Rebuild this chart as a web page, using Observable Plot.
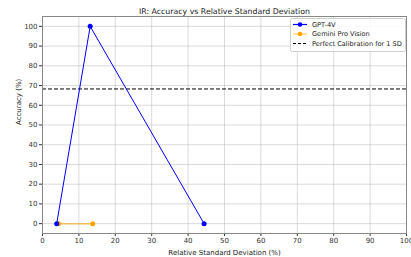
<!DOCTYPE html>
<html><head><meta charset="utf-8">
<script src="https://cdn.jsdelivr.net/npm/d3@7"></script>
<script src="https://cdn.jsdelivr.net/npm/@observablehq/plot@0.6"></script>
<style>
html,body{margin:0;padding:0;background:#fff;}
#wrap{position:relative;width:411px;height:257px;font-family:"DejaVu Sans",sans-serif;}
#legend{position:absolute;left:290px;top:18px;}
</style></head>
<body><div id="wrap"><div id="chart"></div><svg id="legend" width="116" height="34"></svg></div>
<script>
const title = "IR: Accuracy vs Relative Standard Deviation";
const xLabel = "Relative Standard Deviation (%)";
const yLabel = "Accuracy (%)";
const gptX = [3.9, 13.1, 44.4];
const gptY = [0, 100, 0];
const gemX = [4.4, 13.8];
const gemY = [0, 0];
const calibration = 68.27;
const xTicks = [0,10,20,30,40,50,60,70,80,90,100];
const yTicks = [0,10,20,30,40,50,60,70,80,90,100];
const seriesNames = ["GPT-4V", "Gemini Pro Vision", "Perfect Calibration for 1 SD"];

const gpt = gptX.map((x,i)=>({x, y: gptY[i]}));
const gem = gemX.map((x,i)=>({x, y: gemY[i]}));

const plot = Plot.plot({
  width: 411, height: 257,
  marginLeft: 42, marginRight: 5, marginTop: 16, marginBottom: 24,
  style: {fontFamily: "DejaVu Sans, sans-serif", fontSize: "7px", color: "#333"},
  x: {domain: [0, 100]},
  y: {domain: [-5, 105]},
  marks: [
    Plot.ruleX(xTicks, {stroke: "#b0b0b0", strokeOpacity: 0.6, strokeWidth: 0.8}),
    Plot.ruleY(yTicks, {stroke: "#b0b0b0", strokeOpacity: 0.6, strokeWidth: 0.8}),
    Plot.ruleY([calibration], {stroke: "#000", strokeDasharray: "4,2", strokeWidth: 1}),
    Plot.line(gem, {x: "x", y: "y", stroke: "#ffa500", strokeOpacity: 0.6, strokeWidth: 1.5}),
    Plot.dot(gem, {x: "x", y: "y", fill: "#ffa500", r: 2.5}),
    Plot.line(gpt, {x: "x", y: "y", stroke: "#0000ff", strokeWidth: 1}),
    Plot.dot(gpt, {x: "x", y: "y", fill: "#0000ff", r: 2.5}),
    Plot.axisX({ticks: xTicks, tickSize: 3, tickPadding: 2, label: null, fontSize: 7}),
    Plot.axisY({ticks: yTicks, tickSize: 3, tickPadding: 2, label: null, fontSize: 7}),
    Plot.frame({stroke: "#888", strokeWidth: 1}),
    Plot.text([title], {frameAnchor: "top", dy: -8, fontSize: 7.8, fill: "#222"}),
    Plot.text([xLabel], {frameAnchor: "bottom", lineAnchor: "bottom", dy: 21, fontSize: 7, fill: "#222"}),
    Plot.text([yLabel], {frameAnchor: "left", dx: -24, rotate: -90, fontSize: 7, fill: "#222"})
  ]
});
document.getElementById("chart").appendChild(plot);

const styles = [
  {color: "#0000ff", dash: null, marker: true, op: 1},
  {color: "#ffa500", dash: null, marker: true, op: 0.6},
  {color: "#000", dash: "3,2", marker: false, op: 1}
];
const leg = d3.select("#legend");
leg.append("rect").attr("x", 0.5).attr("y", 0.5).attr("width", 115).attr("height", 33)
  .attr("rx", 2).attr("fill", "rgba(255,255,255,0.85)").attr("stroke", "#d0d0d0");
seriesNames.forEach((n, i) => {
  const s = styles[i];
  const cy = 6.5 + i * 9.5;
  const g = leg.append("g");
  const ln = g.append("line").attr("x1", 3).attr("x2", 17).attr("y1", cy).attr("y2", cy)
    .attr("stroke", s.color).attr("stroke-opacity", s.op).attr("stroke-width", 1.2);
  if (s.dash) ln.attr("stroke-dasharray", s.dash);
  if (s.marker) g.append("circle").attr("cx", 10).attr("cy", cy).attr("r", 2.3).attr("fill", s.color);
  g.append("text").attr("x", 22).attr("y", cy).attr("dy", "0.35em")
    .attr("font-size", 6.6).attr("fill", "#222").attr("font-family", "DejaVu Sans, sans-serif").text(n);
});
</script></body></html>
